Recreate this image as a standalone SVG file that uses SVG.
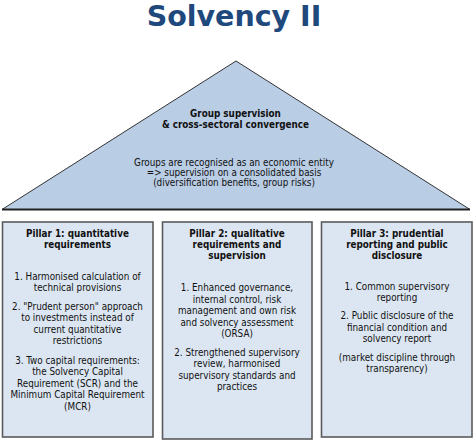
<svg xmlns="http://www.w3.org/2000/svg" width="474" height="443" viewBox="0 0 474 443">
<style>
.title{font-family:"DejaVu Sans",sans-serif;font-weight:bold;font-size:28.5px;fill:#1f497d;text-anchor:middle}
.t{font-family:"DejaVu Sans Condensed","DejaVu Sans",sans-serif;font-stretch:condensed;font-size:9.8px;fill:#111;text-anchor:middle}
.b{font-weight:bold}
.tri{fill:#b9cde5;stroke:#333;stroke-width:1}
.box{fill:#dce6f2;stroke:#5a5a5a;stroke-width:1.6}
</style>
<rect width="474" height="443" fill="#fff"/>
<text class="title" x="234" y="25.5">Solvency II</text>
<g id="group-supervision">
<polygon class="tri" points="236,61 470,209.5 2,209.5"/>
<line x1="2" y1="209.5" x2="470" y2="209.5" stroke="#222" stroke-width="2"/>
<text class="t b" x="235.5" y="116.5">Group supervision</text>
<text class="t b" x="235.5" y="127.5">&amp; cross-sectoral convergence</text>
<text class="t" x="234" y="165.5">Groups are recognised as an economic entity</text>
<text class="t" x="234" y="175.8">=&gt; supervision on a consolidated basis</text>
<text class="t" x="234" y="186">(diversification benefits, group risks)</text>
</g>
<g id="pillar1">
<rect class="box" x="2.5" y="222" width="150.5" height="215"/>
<text class="t b" x="77.5" y="237">Pillar 1: quantitative</text>
<text class="t b" x="77.5" y="248">requirements</text>
<text class="t" x="77.5" y="279.5">1. Harmonised calculation of</text>
<text class="t" x="77.5" y="291">technical provisions</text>
<text class="t" x="77.5" y="309.5">2. "Prudent person" approach</text>
<text class="t" x="77.5" y="321">to investments instead of</text>
<text class="t" x="77.5" y="332.5">current quantitative</text>
<text class="t" x="77.5" y="344">restrictions</text>
<text class="t" x="77.5" y="363.5">3. Two capital requirements:</text>
<text class="t" x="77.5" y="375">the Solvency Capital</text>
<text class="t" x="77.5" y="386.5">Requirement (SCR) and the</text>
<text class="t" x="77.5" y="398">Minimum Capital Requirement</text>
<text class="t" x="77.5" y="409.5">(MCR)</text>
</g>
<g id="pillar2">
<rect class="box" x="162.5" y="222" width="149.5" height="217"/>
<text class="t b" x="237" y="237">Pillar 2: qualitative</text>
<text class="t b" x="237" y="248">requirements and</text>
<text class="t b" x="237" y="259">supervision</text>
<text class="t" x="237" y="291">1. Enhanced governance,</text>
<text class="t" x="237" y="302.5">internal control, risk</text>
<text class="t" x="237" y="314">management and own risk</text>
<text class="t" x="237" y="325.5">and solvency assessment</text>
<text class="t" x="237" y="337">(ORSA)</text>
<text class="t" x="237" y="355.5">2. Strengthened supervisory</text>
<text class="t" x="237" y="367">review, harmonised</text>
<text class="t" x="237" y="378.5">supervisory standards and</text>
<text class="t" x="237" y="390">practices</text>
</g>
<g id="pillar3">
<rect class="box" x="321.5" y="222" width="150.5" height="215"/>
<text class="t b" x="397" y="237">Pillar 3: prudential</text>
<text class="t b" x="397" y="248">reporting and public</text>
<text class="t b" x="397" y="259">disclosure</text>
<text class="t" x="397" y="289.5">1. Common supervisory</text>
<text class="t" x="397" y="301">reporting</text>
<text class="t" x="397" y="319">2. Public disclosure of the</text>
<text class="t" x="397" y="330.5">financial condition and</text>
<text class="t" x="397" y="342">solvency report</text>
<text class="t" x="397" y="360.5">(market discipline through</text>
<text class="t" x="397" y="372">transparency)</text>
</g>
<g id="connectors"></g>
</svg>
